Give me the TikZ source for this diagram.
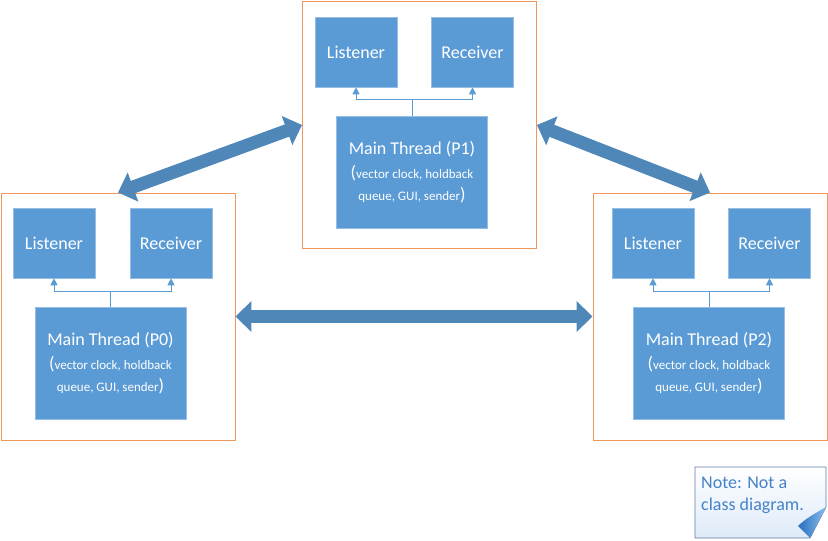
\documentclass[tikz,border=0pt]{standalone}
\usepackage{fontspec}
\setmainfont{Carlito}
\usetikzlibrary{arrows.meta,calc}
\definecolor{boxblue}{RGB}{91,155,213}
\definecolor{boxedge}{RGB}{150,190,228}
\definecolor{arrowblue}{RGB}{79,135,185}
\definecolor{conorange}{RGB}{242,150,95}
\definecolor{notetext}{RGB}{70,130,200}
\definecolor{noteedge}{RGB}{95,125,170}
\definecolor{notefill}{RGB}{222,234,248}
\definecolor{folddark}{RGB}{40,110,190}
\definecolor{foldlight}{RGB}{140,190,235}

\newcommand\threadtext[1]{Main Thread (#1)\\[2pt](\fontsize{13}{22}\selectfont vector clock, holdback\\{\fontsize{13}{22}\selectfont queue, GUI, sender})}

\tikzset{
  container/.style={draw=conorange, line width=0.9pt, minimum width=234pt, minimum height=247pt, inner sep=0pt},
  sub/.style={fill=boxblue, draw=boxedge, line width=0.6pt, text=white, font=\fontsize{18}{22}\selectfont, minimum width=82pt, minimum height=70pt, inner sep=0pt},
  mainbox/.style={sub, minimum width=151pt, minimum height=112pt, align=center},
  link/.style={draw=boxblue, line width=1pt, -{Triangle[length=7pt,width=7pt]}},
  bigarrow/.style={draw=arrowblue, line width=13pt,
    {Triangle[length=16pt,width=30pt]}-{Triangle[length=16pt,width=30pt]}},
}

\begin{document}
\begin{tikzpicture}[x=1pt,y=-1pt]
\useasboundingbox (0,0) rectangle (828,541);

% process containers
\node[container] (c1) at (419.5,125) {};
\node[container] (c0) at (118,316.5) {};
\node[container] (c2) at (710,316.5) {};

% process P1
\node[sub] (l1) at (356,52) {Listener};
\node[sub] (r1) at (472.5,52) {Receiver};
\node[mainbox] (m1) at (412,172) {\threadtext{P1}};
\coordinate (j1) at ($(m1.north)+(0,-16)$);
\draw[link] (m1.north) -- (j1) -| (l1.south);
\draw[link] (j1) -| (r1.south);

% process P0
\node[sub] (l0) at (54,243) {Listener};
\node[sub] (r0) at (171,243) {Receiver};
\node[mainbox] (m0) at (110.5,363) {\threadtext{P0}};
\coordinate (j0) at ($(m0.north)+(0,-15)$);
\draw[link] (m0.north) -- (j0) -| (l0.south);
\draw[link] (j0) -| (r0.south);

% process P2
\node[sub] (l2) at (653,243) {Listener};
\node[sub] (r2) at (769.5,243) {Receiver};
\node[mainbox] (m2) at (709,363) {\threadtext{P2}};
\coordinate (j2) at ($(m2.north)+(0,-15)$);
\draw[link] (m2.north) -- (j2) -| (l2.south);
\draw[link] (j2) -| (r2.south);

% communication between processes
\draw[bigarrow] (c0.north) -- (c1.west);
\draw[bigarrow] (c1.east) -- (c2.north);
\draw[bigarrow] (c0.east) -- (c2.west);

% note with folded corner
\shade[top color=white, bottom color=notefill, draw=noteedge, line width=0.8pt]
  (695,467) -- (826,467) -- (826,507) -- (810,538) -- (695,538) -- cycle;
\shade[left color=folddark, right color=foldlight]
  (826,507) .. controls (812,515) and (804,520) .. (798,526) -- (810,538) -- cycle;
\node[anchor=north west, align=left, text=notetext, font=\fontsize{18}{22}\selectfont, inner sep=0pt]
  (note) at (701,477) {Note: Not a\\class diagram.};
\end{tikzpicture}
\end{document}
